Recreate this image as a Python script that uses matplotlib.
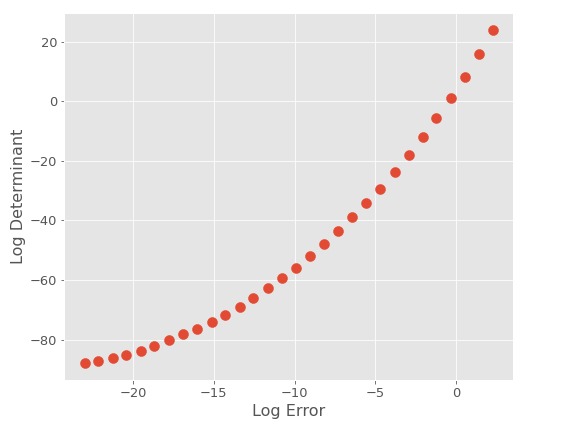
import matplotlib
matplotlib.use("Agg")
import matplotlib.pyplot as plt

plt.style.use("ggplot")

log_error = [-22.99, -22.14, -21.26, -20.41, -19.51, -18.68, -17.77, -16.93, -16.02, -15.13,
             -14.29, -13.40, -12.56, -11.65, -10.80, -9.92, -9.07, -8.16, -7.32, -6.43,
             -5.59, -4.70, -3.79, -2.95, -2.06, -1.22, -0.33, 0.52, 1.40, 2.27]
log_det = [-88.0, -87.3, -86.3, -85.1, -83.7, -82.1, -80.3, -78.3, -76.3, -74.0,
           -71.7, -69.0, -66.0, -62.7, -59.3, -56.0, -52.0, -48.0, -43.7, -39.0,
           -34.3, -29.3, -23.7, -18.0, -12.0, -5.7, 1.0, 8.3, 16.0, 24.0]

fig = plt.figure(figsize=(8, 433/72), dpi=72)
ax = fig.add_axes([64.3/576, 1 - 380/433, (513.3-64.3)/576, (380-13.3)/433])
ax.scatter(log_error, log_det, s=100, color="#E24A33", zorder=3)
ax.set_xlabel("Log Error", fontsize=16)
ax.set_ylabel("Log Determinant", fontsize=16)
ax.tick_params(labelsize=13)
fig.savefig("out.png", dpi=72)
